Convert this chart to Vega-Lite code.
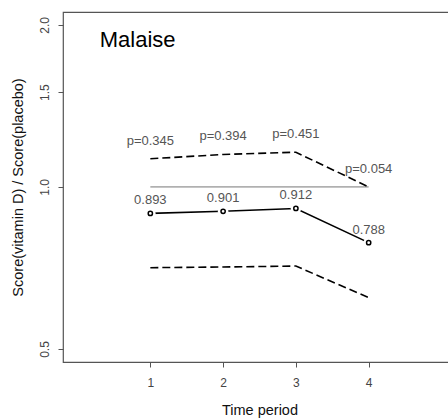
{
  "$schema": "https://vega.github.io/schema/vega-lite/v6.json",
  "width": 393,
  "height": 350,
  "autosize": {"type": "none"},
  "padding": {"left": 63, "top": 12, "right": 0, "bottom": 56},
  "background": "white",
  "config": {
    "font": "Liberation Sans",
    "view": {"stroke": "#555555", "strokeWidth": 1.2},
    "axis": {
      "domain": false,
      "grid": false,
      "tickColor": "#555555",
      "tickSize": 5,
      "labelColor": "#444444",
      "labelFont": "Liberation Sans",
      "labelFontSize": 12,
      "titleFont": "Liberation Sans",
      "titleFontSize": 14.5,
      "titleFontWeight": "normal",
      "titleColor": "#111111"
    }
  },
  "data": {
    "values": [
      {"period": 1, "est": 0.893, "lo": 0.708, "hi": 1.128, "p": "p=0.345", "lab": "0.893"},
      {"period": 2, "est": 0.901, "lo": 0.710, "hi": 1.149, "p": "p=0.394", "lab": "0.901"},
      {"period": 3, "est": 0.912, "lo": 0.713, "hi": 1.160, "p": "p=0.451", "lab": "0.912"},
      {"period": 4, "est": 0.788, "lo": 0.623, "hi": 1.0, "p": "p=0.054", "lab": "0.788"}
    ]
  },
  "encoding": {
    "x": {
      "field": "period",
      "type": "quantitative",
      "scale": {"domain": [-0.2, 5.2], "nice": false, "zero": false},
      "axis": {"values": [1, 2, 3, 4], "title": "Time period", "labelPadding": 10, "titlePadding": 15, "format": "d"}
    }
  },
  "layer": [
    {
      "mark": {"type": "rule", "color": "#777777", "strokeWidth": 1},
      "encoding": {
        "x": {"aggregate": "min", "field": "period"},
        "x2": {"aggregate": "max", "field": "period"},
        "y": {"datum": 1, "type": "quantitative"}
      }
    },
    {
      "mark": {"type": "line", "color": "black", "strokeWidth": 1.6, "strokeDash": [8, 4]},
      "encoding": {
        "y": {
          "field": "hi",
          "type": "quantitative",
          "scale": {"type": "log", "domain": [0.473, 2.113], "nice": false, "zero": false},
          "axis": {
            "values": [0.5, 1, 1.5, 2],
            "format": ".1f",
            "title": "Score(vitamin D) / Score(placebo)",
            "labelAngle": -90,
            "labelAlign": "center",
            "labelBaseline": "bottom",
            "labelPadding": 7,
            "titlePadding": 13
          }
        }
      }
    },
    {
      "mark": {"type": "line", "color": "black", "strokeWidth": 1.6, "strokeDash": [8, 4]},
      "encoding": {"y": {"field": "lo", "type": "quantitative"}}
    },
    {
      "mark": {"type": "line", "color": "black", "strokeWidth": 1.6},
      "encoding": {"y": {"field": "est", "type": "quantitative"}}
    },
    {
      "mark": {"type": "point", "shape": "circle", "filled": true, "color": "white", "size": 110, "opacity": 1},
      "encoding": {"y": {"field": "est", "type": "quantitative"}}
    },
    {
      "mark": {"type": "point", "shape": "circle", "filled": false, "color": "black", "strokeWidth": 1.5, "size": 18, "opacity": 1},
      "encoding": {"y": {"field": "est", "type": "quantitative"}}
    },
    {
      "mark": {"type": "text", "fontSize": 13, "color": "#555555", "baseline": "middle", "dy": -13},
      "encoding": {"y": {"field": "est", "type": "quantitative"}, "text": {"field": "lab"}}
    },
    {
      "mark": {"type": "text", "fontSize": 13, "color": "#555555", "baseline": "middle", "dy": -18},
      "encoding": {"y": {"field": "hi", "type": "quantitative"}, "text": {"field": "p"}}
    },
    {
      "data": {"values": [{"tx": 0.305, "ty": 1.874, "name": "Malaise"}]},
      "mark": {"type": "text", "fontSize": 22, "color": "black", "align": "left", "baseline": "middle"},
      "encoding": {
        "x": {"field": "tx", "type": "quantitative"},
        "y": {"field": "ty", "type": "quantitative"},
        "text": {"field": "name"}
      }
    }
  ]
}
